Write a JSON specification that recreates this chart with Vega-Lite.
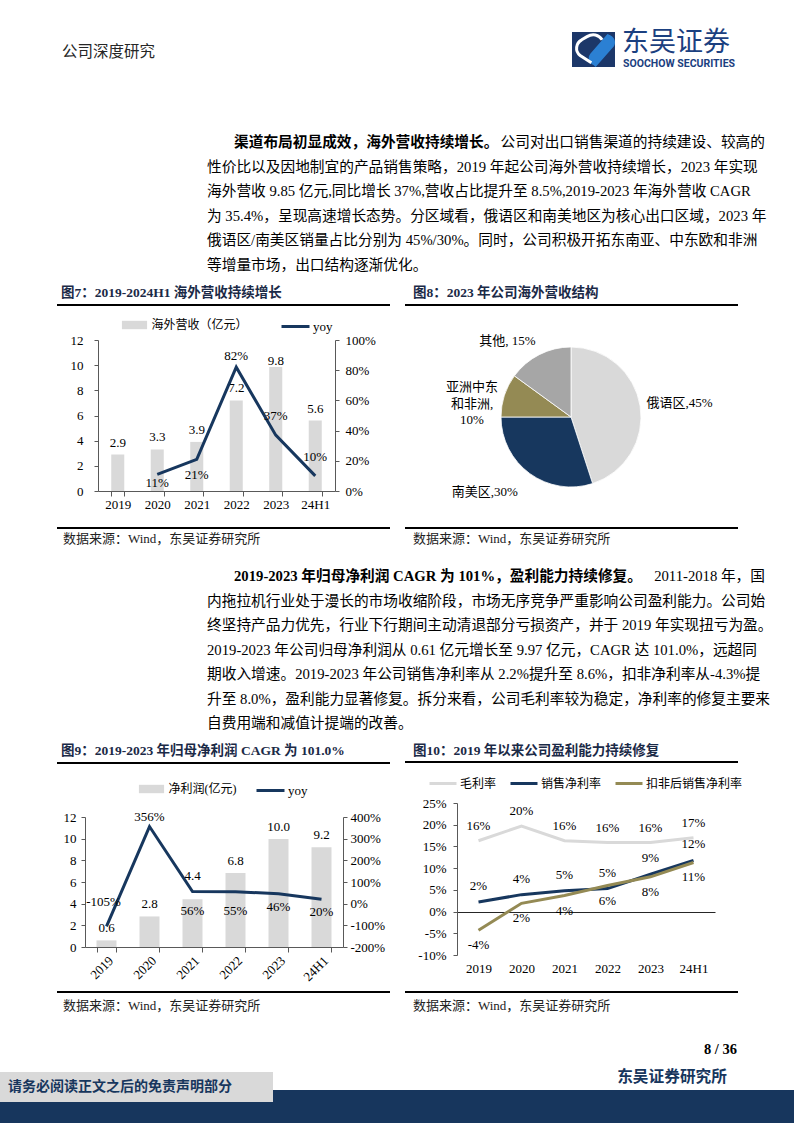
{
"$schema": "https://vega.github.io/schema/vega-lite/v6.json",
"width": 794, "height": 1123, "padding": 0, "autosize": {"type": "none"}, "background": "#ffffff",
"config": {
 "view": {"stroke": null},
 "font": "Liberation Serif, Noto Sans CJK SC",
 "text": {"font": "Liberation Serif, Noto Sans CJK SC", "fontSize": 13, "color": "#000000"},
 "axis": {"labelFont": "Liberation Serif, Noto Sans CJK SC", "labelFontSize": 13, "labelColor": "#000000", "domainColor": "#595959", "tickColor": "#595959", "grid": false},
 "legend": {"labelFont": "Liberation Serif, Noto Sans CJK SC", "labelFontSize": 12, "labelColor": "#000000"},
 "locale": {"number": {"decimal": ".", "thousands": ",", "grouping": [3], "currency": ["", ""], "minus": "-"}}
},
"datasets": {
 "fig7": [
  {"period": "2019", "revenue": 2.9, "yoy": null},
  {"period": "2020", "revenue": 3.3, "yoy": 0.11},
  {"period": "2021", "revenue": 3.9, "yoy": 0.21},
  {"period": "2022", "revenue": 7.2, "yoy": 0.82},
  {"period": "2023", "revenue": 9.85, "yoy": 0.37},
  {"period": "24H1", "revenue": 5.6, "yoy": 0.10}
 ],
 "fig8": [
  {"region": "俄语区", "share": 0.45, "rank": 1, "label": "俄语区,45%"},
  {"region": "南美区", "share": 0.30, "rank": 2, "label": "南美区,30%"},
  {"region": "亚洲中东和非洲", "share": 0.10, "rank": 3, "label": "亚洲中东\n和非洲,\n10%"},
  {"region": "其他", "share": 0.15, "rank": 4, "label": "其他, 15%"}
 ],
 "fig9": [
  {"period": "2019", "profit": 0.61, "yoy": -1.05},
  {"period": "2020", "profit": 2.82, "yoy": 3.56},
  {"period": "2021", "profit": 4.40, "yoy": 0.56},
  {"period": "2022", "profit": 6.82, "yoy": 0.55},
  {"period": "2023", "profit": 9.97, "yoy": 0.46},
  {"period": "24H1", "profit": 9.2, "yoy": 0.20}
 ],
 "fig10": [
  {"period": "2019", "metric": "毛利率", "value": 0.163},
  {"period": "2020", "metric": "毛利率", "value": 0.197},
  {"period": "2021", "metric": "毛利率", "value": 0.163},
  {"period": "2022", "metric": "毛利率", "value": 0.159},
  {"period": "2023", "metric": "毛利率", "value": 0.159},
  {"period": "24H1", "metric": "毛利率", "value": 0.170},
  {"period": "2019", "metric": "销售净利率", "value": 0.022},
  {"period": "2020", "metric": "销售净利率", "value": 0.039},
  {"period": "2021", "metric": "销售净利率", "value": 0.048},
  {"period": "2022", "metric": "销售净利率", "value": 0.053},
  {"period": "2023", "metric": "销售净利率", "value": 0.086},
  {"period": "24H1", "metric": "销售净利率", "value": 0.118},
  {"period": "2019", "metric": "扣非后销售净利率", "value": -0.043},
  {"period": "2020", "metric": "扣非后销售净利率", "value": 0.019},
  {"period": "2021", "metric": "扣非后销售净利率", "value": 0.037},
  {"period": "2022", "metric": "扣非后销售净利率", "value": 0.060},
  {"period": "2023", "metric": "扣非后销售净利率", "value": 0.080},
  {"period": "24H1", "metric": "扣非后销售净利率", "value": 0.113}
 ],
 "para1_lead": [{"line": 1, "text": "渠道布局初显成效，海外营收持续增长。"}],
 "para1_end": [{"line": 1, "text": "公司对出口销售渠道的持续建设、较高的"}],
 "para1_body": [
  {"line": 2, "text": "性价比以及因地制宜的产品销售策略，2019 年起公司海外营收持续增长，2023 年实现"},
  {"line": 3, "text": "海外营收 9.85 亿元,同比增长 37%,营收占比提升至 8.5%,2019-2023 年海外营收 CAGR"},
  {"line": 4, "text": "为 35.4%，呈现高速增长态势。分区域看，俄语区和南美地区为核心出口区域，2023 年"},
  {"line": 5, "text": "俄语区/南美区销量占比分别为 45%/30%。同时，公司积极开拓东南亚、中东欧和非洲"},
  {"line": 6, "text": "等增量市场，出口结构逐渐优化。"}
 ],
 "para2_lead": [{"line": 1, "text": "2019-2023 年归母净利润 CAGR 为 101%，盈利能力持续修复。"}],
 "para2_end": [{"line": 1, "text": "2011-2018 年，国"}],
 "para2_body": [
  {"line": 2, "text": "内拖拉机行业处于漫长的市场收缩阶段，市场无序竞争严重影响公司盈利能力。公司始"},
  {"line": 3, "text": "终坚持产品力优先，行业下行期间主动清退部分亏损资产，并于 2019 年实现扭亏为盈。"},
  {"line": 4, "text": "2019-2023 年公司归母净利润从 0.61 亿元增长至 9.97 亿元，CAGR 达 101.0%，远超同"},
  {"line": 5, "text": "期收入增速。2019-2023 年公司销售净利率从 2.2%提升至 8.6%，扣非净利率从-4.3%提"},
  {"line": 6, "text": "升至 8.0%，盈利能力显著修复。拆分来看，公司毛利率较为稳定，净利率的修复主要来"},
  {"line": 7, "text": "自费用端和减值计提端的改善。"}
 ]
},
"resolve": {
 "scale": {"x": "independent", "y": "independent", "theta": "independent", "color": "independent", "fill": "independent", "stroke": "independent"},
 "axis": {"x": "independent", "y": "independent"},
 "legend": {"color": "independent", "fill": "independent", "stroke": "independent"}
},
"layer": [
 {"layer": [
  {"data": {"values": [{"t": "公司深度研究"}]}, "mark": {"type": "text", "align": "left", "baseline": "middle", "fontSize": 15.5, "color": "#262626"},
   "encoding": {"x": {"datum": 62, "type": "quantitative", "scale": {"domain": [0, 794], "range": [0, 794]}, "axis": null}, "y": {"datum": 52, "type": "quantitative", "scale": {"domain": [0, 1123], "range": [0, 1123]}, "axis": null}, "text": {"field": "t"}}},
  {"data": {"values": [{"t": "icon"}]}, "mark": {"type": "point", "shape": "M-1,-0.814H1V0.814H-1Z", "size": 1849, "filled": true, "color": "#1c3769", "opacity": 1, "strokeWidth": 0},
   "encoding": {"x": {"datum": 593.5, "type": "quantitative", "scale": {"domain": [0, 794], "range": [0, 794]}, "axis": null}, "y": {"datum": 49.5, "type": "quantitative", "scale": {"domain": [0, 1123], "range": [0, 1123]}, "axis": null}}},
  {"data": {"values": [{"t": "icon"}]}, "mark": {"type": "point", "shape": "M0.1,0.814L0.95,-0.15C1.05,-0.3 1,-0.55 0.8,-0.65L0.65,-0.72L-0.15,0.2C-0.3,0.4 -0.2,0.65 0,0.72Z", "size": 1849, "filled": true, "color": "#2b80d3", "opacity": 1, "strokeWidth": 0},
   "encoding": {"x": {"datum": 593.5, "type": "quantitative", "scale": {"domain": [0, 794], "range": [0, 794]}, "axis": null}, "y": {"datum": 49.5, "type": "quantitative", "scale": {"domain": [0, 1123], "range": [0, 1123]}, "axis": null}}},
  {"data": {"values": [{"t": "icon"}]}, "mark": {"type": "point", "shape": "M-0.1,0.62L-0.62,0.28C-0.88,0.08 -0.82,-0.3 -0.55,-0.45L-0.3,-0.6C-0.05,-0.75 0.25,-0.7 0.4,-0.45", "size": 1849, "filled": false, "color": "#ffffff", "opacity": 1, "strokeWidth": 3},
   "encoding": {"x": {"datum": 593.5, "type": "quantitative", "scale": {"domain": [0, 794], "range": [0, 794]}, "axis": null}, "y": {"datum": 49.5, "type": "quantitative", "scale": {"domain": [0, 1123], "range": [0, 1123]}, "axis": null}}},
  {"data": {"values": [{"t": "东吴证券"}]}, "mark": {"type": "text", "align": "left", "baseline": "middle", "font": "Noto Sans CJK SC", "fontSize": 27, "color": "#1b4080"},
   "encoding": {"x": {"datum": 622, "type": "quantitative", "scale": {"domain": [0, 794], "range": [0, 794]}, "axis": null}, "y": {"datum": 43, "type": "quantitative", "scale": {"domain": [0, 1123], "range": [0, 1123]}, "axis": null}, "text": {"field": "t"}}},
  {"data": {"values": [{"t": "SOOCHOW SECURITIES"}]}, "mark": {"type": "text", "align": "left", "baseline": "middle", "font": "Roboto", "fontWeight": "bold", "fontSize": 10.5, "color": "#1b4080"},
   "encoding": {"x": {"datum": 623, "type": "quantitative", "scale": {"domain": [0, 794], "range": [0, 794]}, "axis": null}, "y": {"datum": 64, "type": "quantitative", "scale": {"domain": [0, 1123], "range": [0, 1123]}, "axis": null}, "text": {"field": "t"}}},
  {"data": {"values": [{"t": "图7：2019-2024H1 海外营收持续增长"}]}, "mark": {"type": "text", "align": "left", "baseline": "middle", "fontSize": 13.5, "fontWeight": "bold", "color": "#1b2a47"},
   "encoding": {"x": {"datum": 61, "type": "quantitative", "scale": {"domain": [0, 794], "range": [0, 794]}, "axis": null}, "y": {"datum": 293, "type": "quantitative", "scale": {"domain": [0, 1123], "range": [0, 1123]}, "axis": null}, "text": {"field": "t"}}},
  {"data": {"values": [{"t": "图8：2023 年公司海外营收结构"}]}, "mark": {"type": "text", "align": "left", "baseline": "middle", "fontSize": 13.5, "fontWeight": "bold", "color": "#1b2a47"},
   "encoding": {"x": {"datum": 413, "type": "quantitative", "scale": {"domain": [0, 794], "range": [0, 794]}, "axis": null}, "y": {"datum": 293, "type": "quantitative", "scale": {"domain": [0, 1123], "range": [0, 1123]}, "axis": null}, "text": {"field": "t"}}},
  {"data": {"values": [{"t": "图9：2019-2023 年归母净利润 CAGR 为 101.0%"}]}, "mark": {"type": "text", "align": "left", "baseline": "middle", "fontSize": 13.5, "fontWeight": "bold", "color": "#1b2a47"},
   "encoding": {"x": {"datum": 61, "type": "quantitative", "scale": {"domain": [0, 794], "range": [0, 794]}, "axis": null}, "y": {"datum": 751, "type": "quantitative", "scale": {"domain": [0, 1123], "range": [0, 1123]}, "axis": null}, "text": {"field": "t"}}},
  {"data": {"values": [{"t": "图10：2019 年以来公司盈利能力持续修复"}]}, "mark": {"type": "text", "align": "left", "baseline": "middle", "fontSize": 13.5, "fontWeight": "bold", "color": "#1b2a47"},
   "encoding": {"x": {"datum": 413, "type": "quantitative", "scale": {"domain": [0, 794], "range": [0, 794]}, "axis": null}, "y": {"datum": 751, "type": "quantitative", "scale": {"domain": [0, 1123], "range": [0, 1123]}, "axis": null}, "text": {"field": "t"}}},
  {"data": {"values": [{}]}, "mark": {"type": "rule", "color": "#000000", "strokeWidth": 2},
   "encoding": {"x": {"datum": 57, "type": "quantitative", "scale": {"domain": [0, 794], "range": [0, 794]}, "axis": null}, "x2": {"datum": 390}, "y": {"datum": 305, "type": "quantitative", "scale": {"domain": [0, 1123], "range": [0, 1123]}, "axis": null}}},
  {"data": {"values": [{}]}, "mark": {"type": "rule", "color": "#000000", "strokeWidth": 2},
   "encoding": {"x": {"datum": 405, "type": "quantitative", "scale": {"domain": [0, 794], "range": [0, 794]}, "axis": null}, "x2": {"datum": 738}, "y": {"datum": 305, "type": "quantitative", "scale": {"domain": [0, 1123], "range": [0, 1123]}, "axis": null}}},
  {"data": {"values": [{}]}, "mark": {"type": "rule", "color": "#000000", "strokeWidth": 2},
   "encoding": {"x": {"datum": 57, "type": "quantitative", "scale": {"domain": [0, 794], "range": [0, 794]}, "axis": null}, "x2": {"datum": 390}, "y": {"datum": 528, "type": "quantitative", "scale": {"domain": [0, 1123], "range": [0, 1123]}, "axis": null}}},
  {"data": {"values": [{}]}, "mark": {"type": "rule", "color": "#000000", "strokeWidth": 2},
   "encoding": {"x": {"datum": 405, "type": "quantitative", "scale": {"domain": [0, 794], "range": [0, 794]}, "axis": null}, "x2": {"datum": 738}, "y": {"datum": 528, "type": "quantitative", "scale": {"domain": [0, 1123], "range": [0, 1123]}, "axis": null}}},
  {"data": {"values": [{}]}, "mark": {"type": "rule", "color": "#000000", "strokeWidth": 2},
   "encoding": {"x": {"datum": 57, "type": "quantitative", "scale": {"domain": [0, 794], "range": [0, 794]}, "axis": null}, "x2": {"datum": 390}, "y": {"datum": 763, "type": "quantitative", "scale": {"domain": [0, 1123], "range": [0, 1123]}, "axis": null}}},
  {"data": {"values": [{}]}, "mark": {"type": "rule", "color": "#000000", "strokeWidth": 2},
   "encoding": {"x": {"datum": 405, "type": "quantitative", "scale": {"domain": [0, 794], "range": [0, 794]}, "axis": null}, "x2": {"datum": 738}, "y": {"datum": 762, "type": "quantitative", "scale": {"domain": [0, 1123], "range": [0, 1123]}, "axis": null}}},
  {"data": {"values": [{}]}, "mark": {"type": "rule", "color": "#000000", "strokeWidth": 2},
   "encoding": {"x": {"datum": 57, "type": "quantitative", "scale": {"domain": [0, 794], "range": [0, 794]}, "axis": null}, "x2": {"datum": 390}, "y": {"datum": 992, "type": "quantitative", "scale": {"domain": [0, 1123], "range": [0, 1123]}, "axis": null}}},
  {"data": {"values": [{}]}, "mark": {"type": "rule", "color": "#000000", "strokeWidth": 2},
   "encoding": {"x": {"datum": 405, "type": "quantitative", "scale": {"domain": [0, 794], "range": [0, 794]}, "axis": null}, "x2": {"datum": 738}, "y": {"datum": 992, "type": "quantitative", "scale": {"domain": [0, 1123], "range": [0, 1123]}, "axis": null}}},
  {"data": {"values": [{"t": "数据来源：Wind，东吴证券研究所"}]}, "mark": {"type": "text", "align": "left", "baseline": "middle", "fontSize": 13, "color": "#222222"},
   "encoding": {"x": {"datum": 63, "type": "quantitative", "scale": {"domain": [0, 794], "range": [0, 794]}, "axis": null}, "y": {"datum": 539, "type": "quantitative", "scale": {"domain": [0, 1123], "range": [0, 1123]}, "axis": null}, "text": {"field": "t"}}},
  {"data": {"values": [{"t": "数据来源：Wind，东吴证券研究所"}]}, "mark": {"type": "text", "align": "left", "baseline": "middle", "fontSize": 13, "color": "#222222"},
   "encoding": {"x": {"datum": 413, "type": "quantitative", "scale": {"domain": [0, 794], "range": [0, 794]}, "axis": null}, "y": {"datum": 539, "type": "quantitative", "scale": {"domain": [0, 1123], "range": [0, 1123]}, "axis": null}, "text": {"field": "t"}}},
  {"data": {"values": [{"t": "数据来源：Wind，东吴证券研究所"}]}, "mark": {"type": "text", "align": "left", "baseline": "middle", "fontSize": 13, "color": "#222222"},
   "encoding": {"x": {"datum": 63, "type": "quantitative", "scale": {"domain": [0, 794], "range": [0, 794]}, "axis": null}, "y": {"datum": 1006, "type": "quantitative", "scale": {"domain": [0, 1123], "range": [0, 1123]}, "axis": null}, "text": {"field": "t"}}},
  {"data": {"values": [{"t": "数据来源：Wind，东吴证券研究所"}]}, "mark": {"type": "text", "align": "left", "baseline": "middle", "fontSize": 13, "color": "#222222"},
   "encoding": {"x": {"datum": 413, "type": "quantitative", "scale": {"domain": [0, 794], "range": [0, 794]}, "axis": null}, "y": {"datum": 1006, "type": "quantitative", "scale": {"domain": [0, 1123], "range": [0, 1123]}, "axis": null}, "text": {"field": "t"}}},
  {"data": {"values": [{}]}, "mark": {"type": "rect", "color": "#17365d"},
   "encoding": {"x": {"datum": 0, "type": "quantitative", "scale": {"domain": [0, 794], "range": [0, 794]}, "axis": null}, "x2": {"datum": 794}, "y": {"datum": 1090, "type": "quantitative", "scale": {"domain": [0, 1123], "range": [0, 1123]}, "axis": null}, "y2": {"datum": 1123}}},
  {"data": {"values": [{}]}, "mark": {"type": "rect", "color": "#d9d9d9"},
   "encoding": {"x": {"datum": 0, "type": "quantitative", "scale": {"domain": [0, 794], "range": [0, 794]}, "axis": null}, "x2": {"datum": 273}, "y": {"datum": 1072, "type": "quantitative", "scale": {"domain": [0, 1123], "range": [0, 1123]}, "axis": null}, "y2": {"datum": 1102}}},
  {"data": {"values": [{"t": "请务必阅读正文之后的免责声明部分"}]}, "mark": {"type": "text", "align": "left", "baseline": "middle", "fontSize": 14, "fontWeight": "bold", "color": "#17365d"},
   "encoding": {"x": {"datum": 8, "type": "quantitative", "scale": {"domain": [0, 794], "range": [0, 794]}, "axis": null}, "y": {"datum": 1087, "type": "quantitative", "scale": {"domain": [0, 1123], "range": [0, 1123]}, "axis": null}, "text": {"field": "t"}}},
  {"data": {"values": [{"t": "8 / 36"}]}, "mark": {"type": "text", "align": "right", "baseline": "middle", "fontSize": 14.5, "fontWeight": "bold", "color": "#000000"},
   "encoding": {"x": {"datum": 737, "type": "quantitative", "scale": {"domain": [0, 794], "range": [0, 794]}, "axis": null}, "y": {"datum": 1050, "type": "quantitative", "scale": {"domain": [0, 1123], "range": [0, 1123]}, "axis": null}, "text": {"field": "t"}}},
  {"data": {"values": [{"t": "东吴证券研究所"}]}, "mark": {"type": "text", "align": "right", "baseline": "middle", "fontSize": 15.7, "fontWeight": "bold", "color": "#17365d"},
   "encoding": {"x": {"datum": 727, "type": "quantitative", "scale": {"domain": [0, 794], "range": [0, 794]}, "axis": null}, "y": {"datum": 1077, "type": "quantitative", "scale": {"domain": [0, 1123], "range": [0, 1123]}, "axis": null}, "text": {"field": "t"}}}
 ]},
 {"layer": [
  {"data": {"name": "para1_lead"}, "mark": {"type": "text", "align": "left", "baseline": "middle", "fontSize": 14.7, "fontWeight": "bold"},
   "encoding": {"x": {"datum": 234, "type": "quantitative", "scale": {"domain": [0, 794], "range": [0, 794]}, "axis": null}, "y": {"field": "line", "type": "quantitative", "scale": {"domain": [1, 6], "range": [143, 265.5]}, "axis": null}, "text": {"field": "text"}}},
  {"data": {"name": "para1_end"}, "mark": {"type": "text", "align": "right", "baseline": "middle", "fontSize": 14.7},
   "encoding": {"x": {"datum": 765, "type": "quantitative", "scale": {"domain": [0, 794], "range": [0, 794]}, "axis": null}, "y": {"field": "line", "type": "quantitative", "scale": {"domain": [1, 6], "range": [143, 265.5]}, "axis": null}, "text": {"field": "text"}}},
  {"data": {"name": "para1_body"}, "mark": {"type": "text", "align": "left", "baseline": "middle", "fontSize": 14.7},
   "encoding": {"x": {"datum": 207, "type": "quantitative", "scale": {"domain": [0, 794], "range": [0, 794]}, "axis": null}, "y": {"field": "line", "type": "quantitative", "scale": {"domain": [1, 6], "range": [143, 265.5]}, "axis": null}, "text": {"field": "text"}}}
 ]},
 {"layer": [
  {"data": {"name": "para2_lead"}, "mark": {"type": "text", "align": "left", "baseline": "middle", "fontSize": 14.7, "fontWeight": "bold"},
   "encoding": {"x": {"datum": 234, "type": "quantitative", "scale": {"domain": [0, 794], "range": [0, 794]}, "axis": null}, "y": {"field": "line", "type": "quantitative", "scale": {"domain": [1, 7], "range": [577, 724]}, "axis": null}, "text": {"field": "text"}}},
  {"data": {"name": "para2_end"}, "mark": {"type": "text", "align": "right", "baseline": "middle", "fontSize": 14.7},
   "encoding": {"x": {"datum": 765, "type": "quantitative", "scale": {"domain": [0, 794], "range": [0, 794]}, "axis": null}, "y": {"field": "line", "type": "quantitative", "scale": {"domain": [1, 7], "range": [577, 724]}, "axis": null}, "text": {"field": "text"}}},
  {"data": {"name": "para2_body"}, "mark": {"type": "text", "align": "left", "baseline": "middle", "fontSize": 14.7},
   "encoding": {"x": {"datum": 207, "type": "quantitative", "scale": {"domain": [0, 794], "range": [0, 794]}, "axis": null}, "y": {"field": "line", "type": "quantitative", "scale": {"domain": [1, 7], "range": [577, 724]}, "axis": null}, "text": {"field": "text"}}}
 ]},
 {"data": {"name": "fig7"},
  "encoding": {"x": {"field": "period", "type": "ordinal", "scale": {"type": "band", "domain": ["2019", "2020", "2021", "2022", "2023", "24H1"], "range": [98, 335], "paddingInner": 0.67, "paddingOuter": 0.335}, "axis": {"orient": "bottom", "offset": -632, "title": null, "labelAngle": 0, "tickBand": "extent", "tickSize": 5, "labelPadding": 2}}},
  "layer": [
   {"layer": [
    {"mark": {"type": "bar"}, "encoding": {"y": {"field": "revenue", "type": "quantitative", "scale": {"domain": [0, 12], "range": [491, 340], "nice": false}, "axis": {"orient": "left", "offset": -98, "title": null, "format": "d", "values": [0, 2, 4, 6, 8, 10, 12], "tickSize": 4, "labelPadding": 11}},
      "fill": {"datum": "海外营收（亿元）", "type": "nominal", "scale": {"range": ["#d9d9d9"]}, "legend": {"orient": "none", "legendX": 120.5, "legendY": 311, "title": null, "symbolType": "M-0.9,-0.3H0.9V0.3H-0.9Z", "symbolSize": 784, "symbolStrokeWidth": 0, "labelOffset": 3, "labelFontSize": 12}}}},
    {"transform": [{"filter": "datum.period !== '2023'"}], "mark": {"type": "text", "dy": -12}, "encoding": {"y": {"field": "revenue", "type": "quantitative"}, "text": {"field": "revenue", "type": "quantitative", "format": ".1f"}}},
    {"transform": [{"filter": "datum.period === '2023'"}], "mark": {"type": "text", "dy": -6}, "encoding": {"y": {"field": "revenue", "type": "quantitative"}, "text": {"field": "revenue", "type": "quantitative", "format": ".1f"}}}
   ]},
   {"layer": [
    {"mark": {"type": "line", "strokeWidth": 3}, "encoding": {"y": {"field": "yoy", "type": "quantitative", "scale": {"domain": [0, 1], "range": [491, 340], "nice": false}, "axis": {"orient": "right", "offset": -459, "title": null, "format": ".0%", "values": [0, 0.2, 0.4, 0.6, 0.8, 1], "tickSize": 4, "labelPadding": 6}},
      "stroke": {"datum": "yoy", "type": "nominal", "scale": {"range": ["#17375e"]}, "legend": {"orient": "none", "legendX": 280, "legendY": 311, "title": null, "symbolType": "stroke", "symbolSize": 784, "symbolStrokeWidth": 3, "labelOffset": 2, "labelFontSize": 13}}}},
    {"transform": [{"filter": "datum.period === '2020'"}], "mark": {"type": "text", "dy": 9}, "encoding": {"y": {"field": "yoy", "type": "quantitative"}, "text": {"field": "yoy", "type": "quantitative", "format": ".0%"}}},
    {"transform": [{"filter": "datum.period === '2021'"}], "mark": {"type": "text", "dy": 16}, "encoding": {"y": {"field": "yoy", "type": "quantitative"}, "text": {"field": "yoy", "type": "quantitative", "format": ".0%"}}},
    {"transform": [{"filter": "datum.period === '2022'"}], "mark": {"type": "text", "dy": -11}, "encoding": {"y": {"field": "yoy", "type": "quantitative"}, "text": {"field": "yoy", "type": "quantitative", "format": ".0%"}}},
    {"transform": [{"filter": "datum.period === '2023' || datum.period === '24H1'"}], "mark": {"type": "text", "dy": -19}, "encoding": {"y": {"field": "yoy", "type": "quantitative"}, "text": {"field": "yoy", "type": "quantitative", "format": ".0%"}}}
   ]}
  ],
  "resolve": {"scale": {"y": "independent"}, "axis": {"y": "independent"}}
 },
 {"data": {"name": "fig8"},
  "encoding": {
   "x": {"datum": 571, "type": "quantitative", "scale": {"domain": [0, 794], "range": [0, 794]}, "axis": null},
   "y": {"datum": 417, "type": "quantitative", "scale": {"domain": [0, 1123], "range": [0, 1123]}, "axis": null},
   "theta": {"field": "share", "type": "quantitative", "stack": true},
   "order": {"field": "rank", "type": "quantitative"}
  },
  "layer": [
   {"mark": {"type": "arc", "outerRadius": 70, "stroke": "#ffffff", "strokeWidth": 0.8},
    "encoding": {"color": {"field": "region", "type": "nominal", "scale": {"domain": ["俄语区", "南美区", "亚洲中东和非洲", "其他"], "range": ["#d9d9d9", "#17375e", "#948a54", "#a6a6a6"]}, "legend": null}}},
   {"mark": {"type": "text", "radius": 110, "dy": 3, "fontSize": 13, "align": "center", "baseline": "middle"},
    "encoding": {"text": {"condition": {"test": "datum.region === '俄语区'", "field": "label", "type": "nominal"}, "value": ""}}},
   {"mark": {"type": "text", "radius": 111, "dx": -21, "dy": -15, "fontSize": 13, "align": "center", "baseline": "middle"},
    "encoding": {"text": {"condition": {"test": "datum.region === '南美区'", "field": "label", "type": "nominal"}, "value": ""}}},
   {"mark": {"type": "text", "radius": 103, "dx": -1, "dy": 2, "fontSize": 13, "align": "center", "baseline": "middle", "lineBreak": "\n", "lineHeight": 16.5},
    "encoding": {"text": {"condition": {"test": "datum.region === '亚洲中东和非洲'", "field": "label", "type": "nominal"}, "value": ""}}},
   {"mark": {"type": "text", "radius": 96, "dx": -20, "dy": 10, "fontSize": 13, "align": "center", "baseline": "middle"},
    "encoding": {"text": {"condition": {"test": "datum.region === '其他'", "field": "label", "type": "nominal"}, "value": ""}}}
  ]
 },
 {"data": {"name": "fig9"},
  "encoding": {"x": {"field": "period", "type": "ordinal", "scale": {"type": "band", "domain": ["2019", "2020", "2021", "2022", "2023", "24H1"], "range": [85, 343], "paddingInner": 0.535, "paddingOuter": 0.2675}, "axis": {"orient": "bottom", "offset": -176, "title": null, "labelAngle": -45, "tickBand": "extent", "tickSize": 5, "labelPadding": 2}}},
  "layer": [
   {"layer": [
    {"mark": {"type": "bar"}, "encoding": {"y": {"field": "profit", "type": "quantitative", "scale": {"domain": [0, 12], "range": [947, 817], "nice": false}, "axis": {"orient": "left", "offset": -85, "title": null, "format": "d", "values": [0, 2, 4, 6, 8, 10, 12], "tickSize": 4, "labelPadding": 5}},
      "fill": {"datum": "净利润(亿元)", "type": "nominal", "scale": {"range": ["#d9d9d9"]}, "legend": {"orient": "none", "legendX": 137.5, "legendY": 775, "title": null, "symbolType": "M-0.9,-0.3H0.9V0.3H-0.9Z", "symbolSize": 784, "symbolStrokeWidth": 0, "labelOffset": 3, "labelFontSize": 12}}}},
    {"transform": [{"filter": "datum.period !== '2021'"}], "mark": {"type": "text", "dy": -12}, "encoding": {"y": {"field": "profit", "type": "quantitative"}, "text": {"field": "profit", "type": "quantitative", "format": ".1f"}}},
    {"transform": [{"filter": "datum.period === '2021'"}], "mark": {"type": "text", "dy": -23}, "encoding": {"y": {"field": "profit", "type": "quantitative"}, "text": {"field": "profit", "type": "quantitative", "format": ".1f"}}}
   ]},
   {"layer": [
    {"mark": {"type": "line", "strokeWidth": 3}, "encoding": {"y": {"field": "yoy", "type": "quantitative", "scale": {"domain": [-2, 4], "range": [947, 817], "nice": false}, "axis": {"orient": "right", "offset": -451, "title": null, "format": ".0%", "values": [-2, -1, 0, 1, 2, 3, 4], "tickSize": 4, "labelPadding": 3}},
      "stroke": {"datum": "yoy", "type": "nominal", "scale": {"range": ["#17375e"]}, "legend": {"orient": "none", "legendX": 255, "legendY": 775, "title": null, "symbolType": "stroke", "symbolSize": 784, "symbolStrokeWidth": 3, "labelOffset": 2, "labelFontSize": 13}}}},
    {"transform": [{"filter": "datum.period === '2019'"}], "mark": {"type": "text", "dy": -24, "dx": -3}, "encoding": {"y": {"field": "yoy", "type": "quantitative"}, "text": {"field": "yoy", "type": "quantitative", "format": ".0%"}}},
    {"transform": [{"filter": "datum.period === '2020'"}], "mark": {"type": "text", "dy": -10}, "encoding": {"y": {"field": "yoy", "type": "quantitative"}, "text": {"field": "yoy", "type": "quantitative", "format": ".0%"}}},
    {"transform": [{"filter": "datum.period === '2021' || datum.period === '2022'"}], "mark": {"type": "text", "dy": 19}, "encoding": {"y": {"field": "yoy", "type": "quantitative"}, "text": {"field": "yoy", "type": "quantitative", "format": ".0%"}}},
    {"transform": [{"filter": "datum.period === '2023' || datum.period === '24H1'"}], "mark": {"type": "text", "dy": 13}, "encoding": {"y": {"field": "yoy", "type": "quantitative"}, "text": {"field": "yoy", "type": "quantitative", "format": ".0%"}}}
   ]}
  ],
  "resolve": {"scale": {"y": "independent"}, "axis": {"y": "independent"}}
 },
 {"data": {"name": "fig10"},
  "encoding": {
   "x": {"field": "period", "type": "ordinal", "scale": {"type": "point", "domain": ["2019", "2020", "2021", "2022", "2023", "24H1"], "range": [457, 715], "padding": 0.5}, "axis": {"orient": "bottom", "offset": -211, "title": null, "labelAngle": 0, "ticks": false, "tickSize": 0, "labelPadding": 50, "domainColor": "#262626"}},
   "y": {"field": "value", "type": "quantitative", "scale": {"domain": [-0.1, 0.25], "range": [955, 803], "nice": false, "zero": false}, "axis": {"orient": "left", "offset": -457, "title": null, "format": ".0%", "values": [-0.1, -0.05, 0, 0.05, 0.1, 0.15, 0.2, 0.25], "tickSize": 4, "labelPadding": 7}}
  },
  "layer": [
   {"mark": {"type": "line", "strokeWidth": 3},
    "encoding": {"stroke": {"field": "metric", "type": "nominal", "scale": {"domain": ["毛利率", "销售净利率", "扣非后销售净利率"], "range": ["#d9d9d9", "#17375e", "#948a54"]},
      "legend": {"orient": "none", "legendX": 428, "legendY": 768.5, "direction": "horizontal", "columns": 3, "gridAlign": "none", "columnPadding": 7, "title": null, "symbolType": "stroke", "symbolSize": 729, "symbolStrokeWidth": 3, "labelOffset": 2, "labelFontSize": 12}}}},
   {"transform": [{"filter": "datum.metric === '毛利率'"}], "mark": {"type": "text", "dy": -15}, "encoding": {"text": {"field": "value", "type": "quantitative", "format": ".0%"}}},
   {"transform": [{"filter": "datum.metric === '销售净利率'"}], "mark": {"type": "text", "dy": -16}, "encoding": {"text": {"field": "value", "type": "quantitative", "format": ".0%"}}},
   {"transform": [{"filter": "datum.metric === '扣非后销售净利率'"}], "mark": {"type": "text", "dy": 15}, "encoding": {"text": {"field": "value", "type": "quantitative", "format": ".0%"}}}
  ]
 }
]
}
